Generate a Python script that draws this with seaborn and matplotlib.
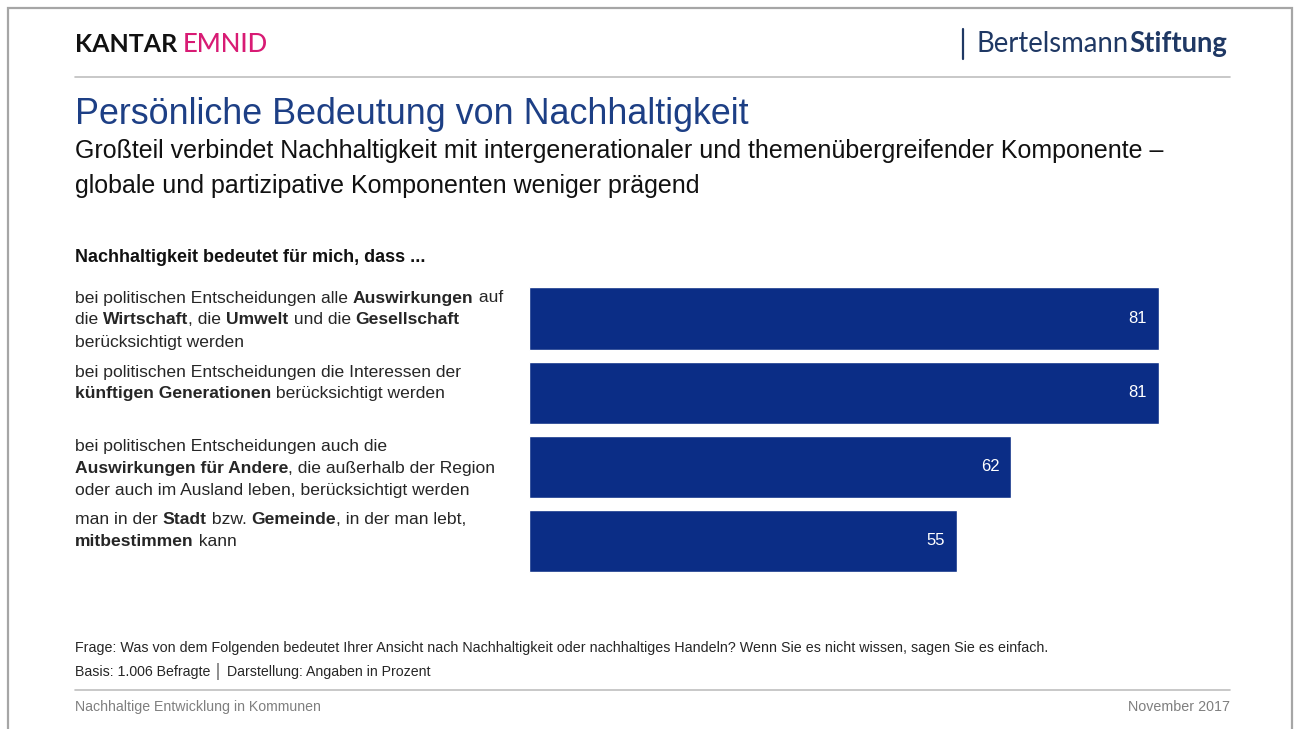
import re
import numpy as np
import pandas as pd
import matplotlib
matplotlib.use("Agg")
import matplotlib.pyplot as plt
from matplotlib.font_manager import FontProperties
from matplotlib.patches import Rectangle
from matplotlib.lines import Line2D
import seaborn as sns

# --- data -------------------------------------------------------------
categories = [
    "bei politischen Entscheidungen alle **Auswirkungen** auf\n"
    "die **Wirtschaft**, die **Umwelt** und die **Gesellschaft**\n"
    "berücksichtigt werden",
    "bei politischen Entscheidungen die Interessen der\n"
    "**künftigen Generationen** berücksichtigt werden",
    "bei politischen Entscheidungen auch die\n"
    "**Auswirkungen für Andere**, die außerhalb der Region\n"
    "oder auch im Ausland leben, berücksichtigt werden",
    "man in der **Stadt** bzw. **Gemeinde**, in der man lebt,\n"
    "**mitbestimmen** kann",
]
values = [81, 81, 62, 55]

title = "Persönliche Bedeutung von Nachhaltigkeit"
subtitle = ("Großteil verbindet Nachhaltigkeit mit intergenerationaler und themenübergreifender Komponente –\n"
            "globale und partizipative Komponenten weniger prägend")
question_head = "Nachhaltigkeit bedeutet für mich, dass ..."
note_question = ("Frage: Was von dem Folgenden bedeutet Ihrer Ansicht nach Nachhaltigkeit oder "
                 "nachhaltiges Handeln? Wenn Sie es nicht wissen, sagen Sie es einfach.")
note_base = "Basis: 1.006 Befragte │ Darstellung: Angaben in Prozent"
footer_left = "Nachhaltige Entwicklung in Kommunen"
footer_right = "November 2017"

# --- styling ------------------------------------------------------------
W, H = 1298, 729
BAR_COLOR = "#0b2d86"
TITLE_COLOR = "#1d3f85"
TEXT_COLOR = "#262626"
GREY = "#7f7f7f"

sns.set_theme(style="white")
plt.rcParams["font.family"] = ["Liberation Sans", "DejaVu Sans"]

fig = plt.figure(figsize=(W / 100, H / 100), dpi=100)
fig.patch.set_facecolor("white")


def fx(x):
    return x / W


def fy(y):
    return 1 - y / H


# outer frame
fig.add_artist(Rectangle((fx(8), fy(760)), fx(1292) - fx(8), fy(8) - fy(760),
                         transform=fig.transFigure, fill=False,
                         edgecolor="#a6a6a6", lw=1.6))

# header / footer rules
for yy in (77, 690):
    fig.add_artist(Line2D([fx(75), fx(1230)], [fy(yy), fy(yy)],
                          transform=fig.transFigure, color="#bfbfbf", lw=1.2))

# --- bar chart ---------------------------------------------------------
df = pd.DataFrame({"Aussage": categories, "Prozent": values})
ax = fig.add_axes([fx(529), fy(578), fx(1230) - fx(529), fy(281.5) - fy(578)])
sns.barplot(data=df, y="Aussage", x="Prozent", orient="h", color=BAR_COLOR,
            saturation=1, width=0.84, ax=ax)
ax.set_xlim(0, 701 / (630 / 81))
ax.set_ylim(3.5, -0.5)
ax.axis("off")
for i, v in enumerate(values):
    ax.annotate(f"{v}", xy=(v, i), xytext=(-8.6, 0), textcoords="offset points",
                ha="right", va="center", color="white", fontsize=12)

# --- texts -------------------------------------------------------------
renderer = fig.canvas.get_renderer()


def text_width(s, prop):
    w1, _, _ = renderer.get_text_width_height_descent(s + "|", prop, ismath=False)
    w2, _, _ = renderer.get_text_width_height_descent("|", prop, ismath=False)
    return w1 - w2


def rich_line(x, y, line, size, color, family="Liberation Sans", bold_weight="bold"):
    parts = re.split(r"(\*\*.*?\*\*)", line)
    for p in parts:
        if not p:
            continue
        bold = p.startswith("**")
        s = p.strip("*") if bold else p
        prop = FontProperties(family=family, size=size,
                              weight=bold_weight if bold else "normal")
        fig.text(fx(x), fy(y), s, fontproperties=prop, color=color, va="center")
        x += text_width(s, prop)


# logos
fig.text(fx(75), fy(45), "KANTAR", fontproperties=FontProperties(family="Lato", size=18, weight="bold"),
         color="#111111", va="center")
fig.text(fx(183), fy(45), "EMNID", fontproperties=FontProperties(family="Lato", size=18.5, weight="medium"),
         color="#d81b74", va="center")
fig.add_artist(Line2D([fx(963), fx(963)], [fy(29), fy(59)], transform=fig.transFigure,
                      color="#1f3864", lw=1.6))
rich_line(977, 44, "Bertelsmann**Stiftung**", 19.8, "#1f3864", family="Lato")

fig.text(fx(75), fy(115), title, fontsize=25.8, color=TITLE_COLOR, va="center")
fig.text(fx(75), fy(151), subtitle.split("\n")[0], fontsize=18, color="#111111", va="center")
fig.text(fx(75), fy(186), subtitle.split("\n")[1], fontsize=18, color="#111111", va="center")

fig.text(fx(75), fy(257), question_head, fontsize=13, weight="bold", color="#111111", va="center")

bar_tops = [288, 362, 436, 510]
for top, cat in zip(bar_tops, categories):
    for k, line in enumerate(cat.split("\n")):
        rich_line(75, top + 10 + k * 22, line, 12.6, TEXT_COLOR)

fig.text(fx(75), fy(648), note_question, fontsize=10.3, color=TEXT_COLOR, va="center")
fig.text(fx(75), fy(671), note_base, fontsize=10.2, color=TEXT_COLOR, va="center")
fig.text(fx(75), fy(707), footer_left, fontsize=10.2, color=GREY, va="center")
fig.text(fx(1230), fy(707), footer_right, fontsize=10.3, color=GREY, va="center", ha="right")

fig.savefig("out.png", dpi=100)
